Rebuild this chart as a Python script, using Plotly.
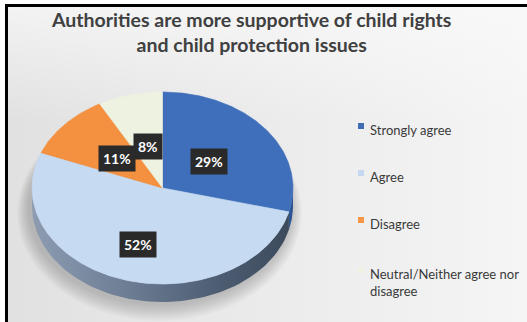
import numpy as np
import plotly.graph_objects as go

# Survey responses: "Authorities are more supportive of child rights and child protection issues"
categories = ["Strongly agree", "Agree", "Disagree", "Neutral/Neither agree nor disagree"]
legend_names = ["Strongly agree", "Agree", "Disagree", "Neutral/Neither agree nor<br>disagree"]
shares = [29, 52, 11, 8]
face_colors = ["#3f6fba", "#c6daf2", "#f39140", "#eef2e0"]
wall_colors = ["#2d5490", "#64758c", "#c06a25", "#b9bdb0"]
legend_colors = ["#3e6db5", "#c5d8f0", "#f79646", "#eef2e2"]
title_text = "Authorities are more supportive of child rights<br>and child protection issues"

W, H = 527, 322
FONT = "Lato"

# Geometry of the tilted pie (page pixels; the axes map 1 unit to 1 pixel)
CX, CY = 162.5, 188.0
RX, RY = 130.5, 96.0
DEPTH = 18.0
LABEL_R = [0.45, 0.62, 0.46, 0.45]


def rim(theta_deg, dy=0.0):
    t = np.radians(theta_deg)
    return CX + RX * np.sin(t), CY - RY * np.cos(t) + dy


total = float(sum(shares))
ends = np.cumsum(shares) / total * 360.0
starts = np.concatenate([[0.0], ends[:-1]])

fig = go.Figure()

# Background panel with soft horizontal shading
fig.add_trace(go.Scatter(
    x=[8, W, W, 8, 8], y=[7, 7, H, H, 7], mode="lines", fill="toself",
    line=dict(width=0),
    fillgradient=dict(type="horizontal",
                      colorscale=[[0, "#e1e1e1"], [0.45, "#eaeaea"], [1, "#f5f5f5"]]),
    hoverinfo="skip", showlegend=False))
fig.add_trace(go.Scatter(
    x=[8, W, W, 8, 8], y=[7, 7, 120, 120, 7], mode="lines", fill="toself",
    line=dict(width=0),
    fillgradient=dict(type="vertical",
                      colorscale=[[0, "rgba(250,250,250,0)"], [1, "rgba(250,250,250,0.7)"]]),
    hoverinfo="skip", showlegend=False))

# Lighter panel behind the legend
fig.add_shape(type="rect", xref="x", yref="y", x0=350, x1=W, y0=110, y1=298,
              fillcolor="rgba(255,255,255,0.22)", line=dict(width=0), layer="below")

# Soft shadow under the pie, built from many faint layers
full = np.radians(np.linspace(0, 360, 241))
for k in range(10, 0, -1):
    grow = 1.2 * k
    fig.add_trace(go.Scatter(
        x=CX - 3 + (RX + grow) * np.sin(full),
        y=CY + DEPTH + 2 + 0.5 * k - (RY + grow) * np.cos(full),
        mode="lines", fill="toself", line=dict(width=0),
        fillcolor="rgba(0,0,0,0.018)", hoverinfo="skip", showlegend=False))

# Side wall of the front half
for i, (a0, a1) in enumerate(zip(starts, ends)):
    lo, hi = max(a0, 90.0), min(a1, 270.0)
    if hi <= lo:
        continue
    th = np.linspace(lo, hi, 80)
    xt, yt = rim(th)
    xb, yb = rim(th[::-1], DEPTH)
    xs = np.concatenate([xt, xb, xt[:1]])
    ys = np.concatenate([yt, yb, yt[:1]])
    if i == 1:
        grad = dict(type="horizontal",
                    colorscale=[[0, "#8d9cb1"], [0.35, "#6e7f96"], [0.7, "#4f5f74"], [1, "#3c4a5c"]])
        fig.add_trace(go.Scatter(x=xs, y=ys, mode="lines", fill="toself", line=dict(width=0),
                                 fillgradient=grad, hoverinfo="skip", showlegend=False))
    else:
        fig.add_trace(go.Scatter(x=xs, y=ys, mode="lines", fill="toself", line=dict(width=0),
                                 fillcolor=wall_colors[i], hoverinfo="skip", showlegend=False))

# Top faces of the slices
for i, (a0, a1) in enumerate(zip(starts, ends)):
    th = np.linspace(a0, a1, max(int((a1 - a0) * 1.5), 4))
    xa, ya = rim(th)
    xs = np.concatenate([[CX], xa, [CX]])
    ys = np.concatenate([[CY], ya, [CY]])
    fig.add_trace(go.Scatter(x=xs, y=ys, mode="lines", fill="toself",
                             line=dict(width=0.6, color=face_colors[i]),
                             fillcolor=face_colors[i], name=categories[i],
                             hoverinfo="skip", showlegend=False))

# Percentage labels in dark boxes
for i, (a0, a1) in enumerate(zip(starts, ends)):
    mid = (a0 + a1) / 2.0
    t = np.radians(mid)
    lx = CX + LABEL_R[i] * RX * np.sin(t)
    ly = CY - LABEL_R[i] * RY * np.cos(t)
    fig.add_annotation(x=lx, y=ly, xref="x", yref="y", text=f"<b>{shares[i]}%</b>",
                       showarrow=False, font=dict(family=FONT, size=14, color="#ffffff"),
                       bgcolor="#2a2a2a", borderpad=4, xanchor="center", yanchor="middle")

# Title (two centred lines)
fig.add_annotation(x=251, y=32, xref="x", yref="y", showarrow=False,
                   text=f"<b>{title_text}</b>", align="center",
                   xanchor="center", yanchor="middle",
                   font=dict(family=FONT, size=19.5, color="#404040"))

# Legend
legend_y = [128, 175, 222, 272]
for i, name in enumerate(legend_names):
    sy = legend_y[i]
    fig.add_shape(type="rect", xref="x", yref="y", x0=358, x1=364, y0=sy - 5, y1=sy + 1,
                  fillcolor=legend_colors[i], line=dict(width=0))
    fig.add_annotation(x=368, y=sy - 8, xref="x", yref="y", showarrow=False,
                       text=name, align="left", xanchor="left", yanchor="top",
                       font=dict(family=FONT, size=13, color="#3a3a3a"))

# Frame lines along the top and left edges
fig.add_shape(type="rect", xref="x", yref="y", x0=5, x1=8, y0=4, y1=H,
              fillcolor="#000000", line=dict(width=0))
fig.add_shape(type="rect", xref="x", yref="y", x0=5, x1=W, y0=4, y1=7,
              fillcolor="#000000", line=dict(width=0))

fig.update_xaxes(range=[0, W], visible=False, fixedrange=True)
fig.update_yaxes(range=[H, 0], visible=False, fixedrange=True)
fig.update_layout(width=W, height=H, margin=dict(l=0, r=0, t=0, b=0),
                  paper_bgcolor="#ffffff", plot_bgcolor="#ffffff", showlegend=False)

fig.write_html("out.html", config={"displayModeBar": False})
